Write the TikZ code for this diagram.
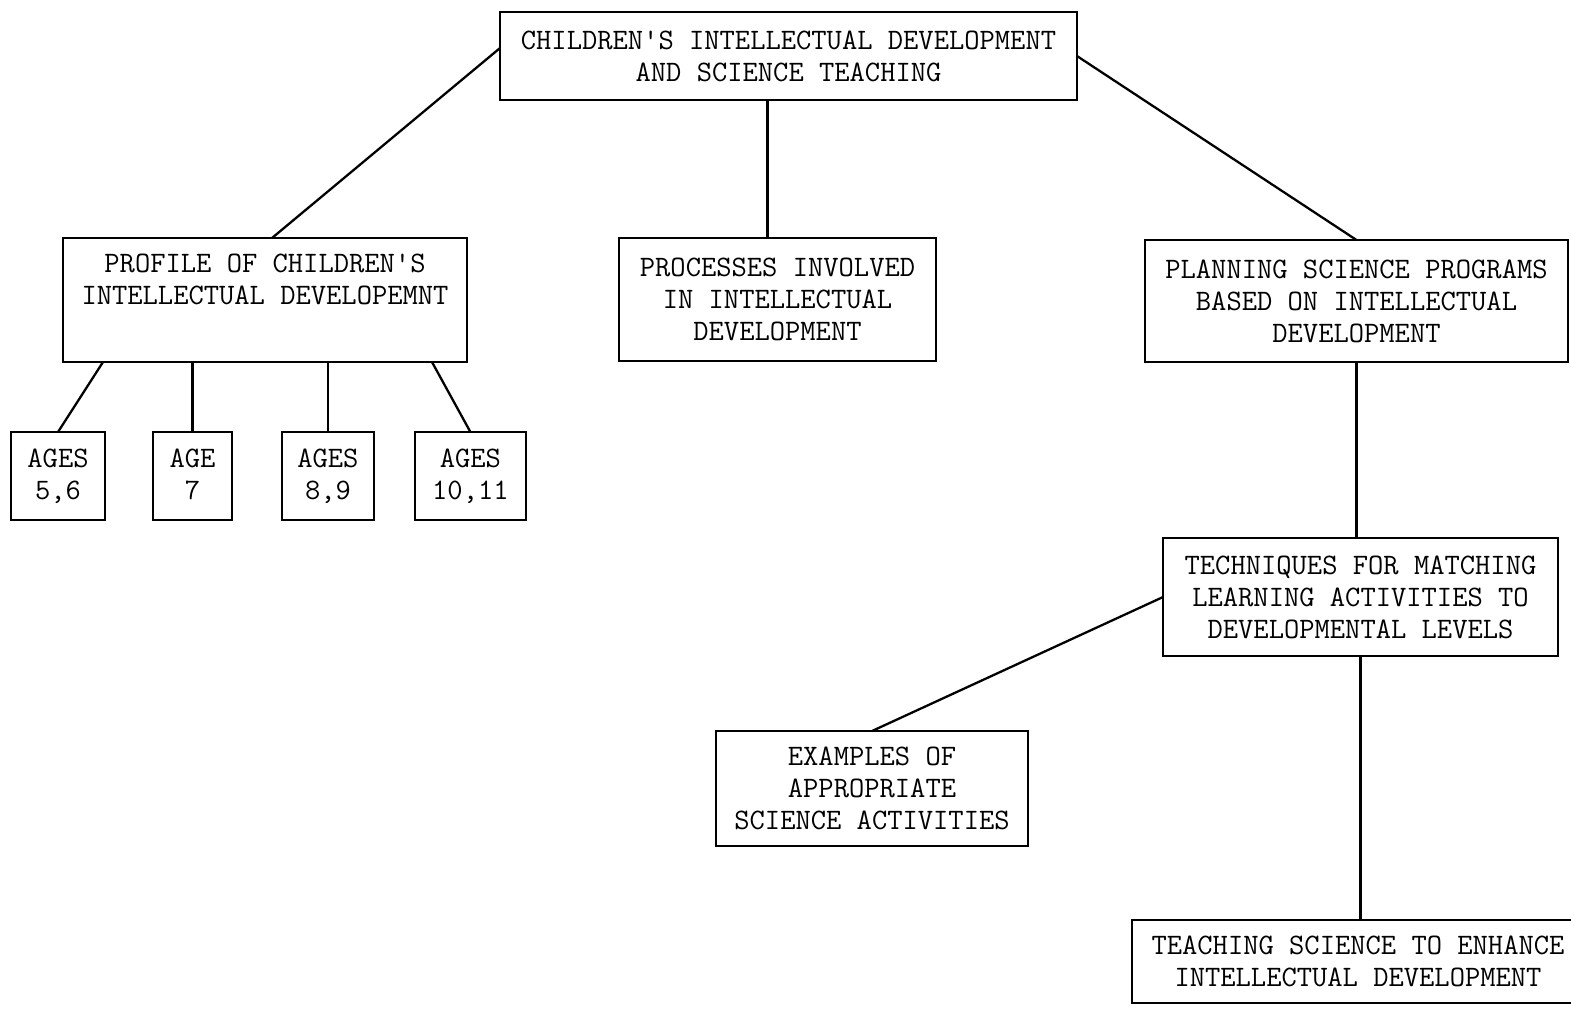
\documentclass[tikz,border=0pt]{standalone}
\begin{document}
\begin{tikzpicture}[
  x=0.02cm, y=-0.02cm,
  block/.style={rectangle, draw, line width=1.6pt, inner sep=0pt, outer sep=0pt, align=center,
    font=\fontsize{16.9}{18.2}\selectfont\ttfamily},
  link/.style={line width=1.3pt},
  node distance=2.7cm
]
\useasboundingbox (0,0) rectangle (1571,1008);

\node[block, minimum width=11.54cm, minimum height=1.76cm] (top) at (788.5,56) {CHILDREN'S INTELLECTUAL DEVELOPMENT\\AND SCIENCE TEACHING};
\node[block, minimum width=8.08cm, minimum height=2.48cm] (profile) at (265,300) {PROFILE OF CHILDREN'S\\INTELLECTUAL DEVELOPEMNT\\\strut};
\node[block, minimum width=6.34cm, minimum height=2.46cm] (process) at (777.5,299.5) {PROCESSES INVOLVED\\IN INTELLECTUAL\\DEVELOPMENT};
\node[block, minimum width=8.46cm, minimum height=2.44cm] (plan) at (1356.5,301) {PLANNING SCIENCE PROGRAMS\\BASED ON INTELLECTUAL\\DEVELOPMENT};

\node[block, minimum width=1.88cm, minimum height=1.76cm] (ages56) at (58,476) {AGES\\5,6};
\node[block, minimum width=1.58cm, minimum height=1.76cm, right of=ages56, node distance=2.69cm] (age7) {AGE\\7\vphantom{,}};
\node[block, minimum width=1.84cm, minimum height=1.76cm, right of=age7, node distance=2.71cm] (ages89) {AGES\\8,9};
\node[block, minimum width=2.22cm, minimum height=1.76cm, right of=ages89, node distance=2.85cm] (ages1011) {AGES\\10,11};

\node[block, minimum width=7.9cm, minimum height=2.36cm] (match) at (1360.5,597) {TECHNIQUES FOR MATCHING\\LEARNING ACTIVITIES TO\\DEVELOPMENTAL LEVELS};
\node[block, minimum width=6.24cm, minimum height=2.3cm] (examples) at (872,788.5) {EXAMPLES OF\\APPROPRIATE\\SCIENCE ACTIVITIES};
\node[block, minimum width=9.04cm, minimum height=1.66cm] (enhance) at (1358,961.5) {TEACHING SCIENCE TO ENHANCE\\INTELLECTUAL DEVELOPMENT};

\draw[link] ([yshift=0.16cm]top.west) -- ([xshift=0.14cm]profile.north);
\draw[link] ([xshift=-0.2cm]process.north) -- ([xshift=-0.2cm]process.north |- top.south);
\draw[link] (top.east) -- (plan.north);

\draw[link] ([xshift=0.8cm]profile.south west) -- (ages56.north);
\draw[link] (age7.north) -- (age7.north |- profile.south);
\draw[link] (ages89.north) -- (ages89.north |- profile.south);
\draw[link] ([xshift=-0.7cm]profile.south east) -- (ages1011.north);

\draw[link] (plan.south) -- (plan.south |- match.north);
\draw[link] (match.west) -- (examples.north);
\draw[link] (match.south) -- (match.south |- enhance.north);
\end{tikzpicture}
\end{document}
